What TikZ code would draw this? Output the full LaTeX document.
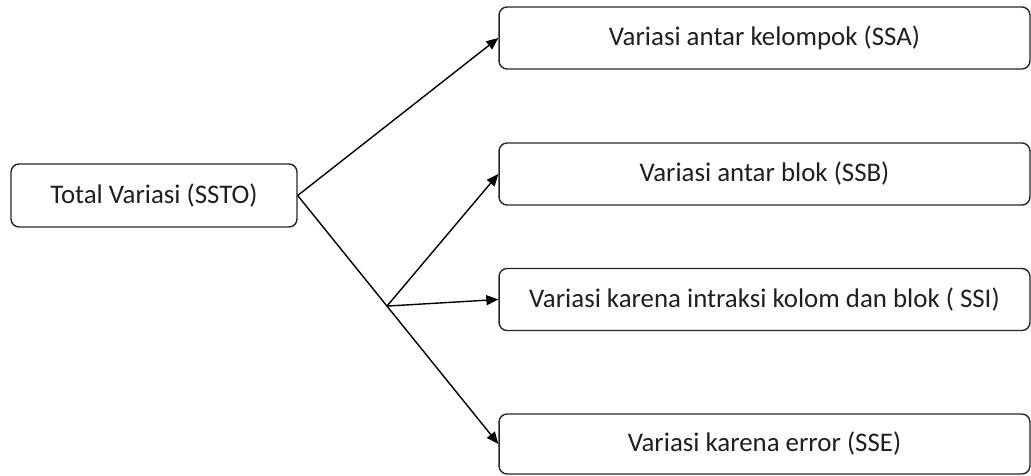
\documentclass[tikz,border=0pt]{standalone}
\usepackage{fontspec}
\setmainfont{Carlito}
\usepackage{tikz}
\usetikzlibrary{arrows.meta}

\begin{document}
\begin{tikzpicture}[
  x=0.02cm, y=-0.02cm,
  font=\fontsize{15.3}{18}\selectfont,
  text=black!88,
  arrow/.style={-{Triangle[length=2.4mm,width=2mm]}, line width=0.8pt},
  box/.style={draw=black!85, rounded corners=1.6mm, line width=0.8pt, minimum height=1.24cm, inner sep=0pt},
  widebox/.style={box, minimum width=10.62cm}
]
\useasboundingbox (0,0) rectangle (1031,476);

% source
\node[box, minimum width=5.72cm, minimum height=1.26cm] (ssto) at (154,195.5) {Total Variasi (SSTO)};

% parts
\node[widebox] (ssa) at (764.5,38) {Variasi antar kelompok (SSA)};
\node[widebox] (ssb) at (764.5,174) {Variasi antar blok (SSB)};
\node[widebox] (ssi) at (764.5,299.5) {Variasi karena intraksi kolom dan blok ( SSI)};
\node[widebox, minimum height=1.2cm] (sse) at (764.5,444) {Variasi karena error (SSE)};

\draw[arrow] (ssto.east) -- (ssa.west);
\draw[arrow] (ssto.east) -- coordinate[pos=0.445] (split) (sse.west);
\draw[arrow] (split) -- (ssb.west);
\draw[arrow] (split) -- (ssi.west);
\end{tikzpicture}
\end{document}
